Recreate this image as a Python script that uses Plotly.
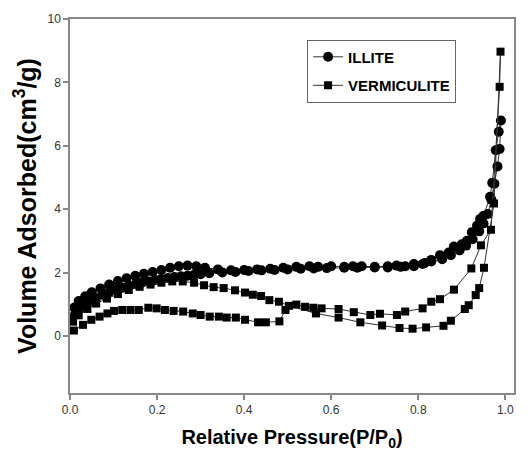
import plotly.graph_objects as go

# ILLITE: adsorption branch then desorption branch
illite_x = [0.005, 0.012, 0.02, 0.03, 0.04, 0.05, 0.06, 0.075, 0.09, 0.105, 0.12, 0.135,
            0.15, 0.165, 0.18, 0.195, 0.21, 0.225, 0.24, 0.255, 0.27, 0.285, 0.30, 0.32,
            0.35, 0.38, 0.41, 0.44, 0.47, 0.50, 0.53, 0.56, 0.59, 0.63, 0.66, 0.70, 0.73,
            0.76, 0.79, 0.81, 0.83, 0.855, 0.875, 0.895, 0.91, 0.925, 0.94, 0.95, 0.96,
            0.968, 0.975, 0.982, 0.987, 0.99,
            0.985, 0.978, 0.97, 0.965, 0.95, 0.942, 0.935, 0.923, 0.912, 0.9, 0.882, 0.87,
            0.85, 0.83, 0.815, 0.79, 0.77, 0.75, 0.73, 0.7, 0.67, 0.65, 0.63, 0.6, 0.57,
            0.55, 0.52, 0.49, 0.46, 0.43, 0.4, 0.37, 0.34, 0.31, 0.29, 0.27, 0.25, 0.23,
            0.21, 0.19, 0.17, 0.15, 0.13, 0.11, 0.09, 0.07, 0.05, 0.035, 0.02, 0.01]
illite_y = [0.55, 0.7, 0.85, 0.95, 1.05, 1.12, 1.2, 1.3, 1.38, 1.45, 1.52, 1.58,
            1.63, 1.68, 1.72, 1.76, 1.8, 1.83, 1.86, 1.88, 1.9, 1.93, 1.95, 1.98,
            2.0, 2.02, 2.05, 2.07, 2.08, 2.1, 2.12, 2.13, 2.14, 2.15, 2.15, 2.16, 2.16,
            2.18, 2.2, 2.27, 2.35, 2.42, 2.55, 2.7, 2.85, 3.05, 3.3, 3.55, 3.85,
            4.3, 4.8, 5.35, 5.9, 6.8,
            6.44, 5.86, 4.83, 4.39, 3.79, 3.69, 3.48, 3.27, 3.0, 2.89, 2.82, 2.63,
            2.55, 2.4, 2.3, 2.27, 2.2, 2.22, 2.2, 2.18, 2.2, 2.2, 2.18, 2.2, 2.18,
            2.2, 2.18, 2.15, 2.12, 2.1, 2.08, 2.07, 2.1, 2.15, 2.2, 2.22, 2.2, 2.15,
            2.08, 2.02, 1.96, 1.9, 1.82, 1.73, 1.62, 1.5, 1.38, 1.25, 1.1, 0.9]

# VERMICULITE: adsorption branch then desorption branch
verm_x = [0.009, 0.03, 0.049, 0.068, 0.086, 0.101, 0.12, 0.139, 0.158, 0.18, 0.199, 0.218,
          0.238, 0.26, 0.282, 0.3, 0.321, 0.342, 0.36, 0.381, 0.402, 0.432, 0.45, 0.481,
          0.495, 0.52, 0.54, 0.559, 0.578, 0.617, 0.652, 0.69, 0.712, 0.751, 0.77, 0.81,
          0.83, 0.85, 0.882, 0.922, 0.944, 0.967, 0.987,
          0.989, 0.974, 0.951, 0.94, 0.932, 0.916, 0.907, 0.875, 0.858, 0.818, 0.787,
          0.757, 0.717, 0.667, 0.617, 0.565, 0.503, 0.48, 0.458, 0.439, 0.42, 0.402,
          0.379, 0.353, 0.33, 0.308, 0.285, 0.259, 0.235, 0.21, 0.185, 0.16, 0.135, 0.11,
          0.085, 0.06, 0.04, 0.02, 0.007]
verm_y = [0.17, 0.35, 0.51, 0.61, 0.71, 0.79, 0.82, 0.82, 0.82, 0.89, 0.87, 0.82,
          0.79, 0.77, 0.71, 0.66, 0.61, 0.61, 0.58, 0.58, 0.51, 0.43, 0.43, 0.46,
          0.82, 0.99, 0.92, 0.89, 0.87, 0.85, 0.75, 0.66, 0.70, 0.66, 0.77, 0.87,
          1.08, 1.16, 1.46, 2.13, 2.86, 3.35, 7.86,
          8.97, 4.18, 2.15, 1.51, 1.29, 0.97, 0.85, 0.48, 0.32, 0.27, 0.23,
          0.25, 0.33, 0.43, 0.58, 0.71, 0.95, 1.08, 1.13, 1.26, 1.30, 1.37,
          1.44, 1.51, 1.54, 1.60, 1.68, 1.72, 1.72, 1.68, 1.62, 1.55, 1.45, 1.32,
          1.18, 1.02, 0.85, 0.65, 0.45]

x_ticks = [0.0, 0.2, 0.4, 0.6, 0.8, 1.0]
y_ticks = [0, 2, 4, 6, 8, 10]

fig = go.Figure()
fig.add_trace(go.Scatter(x=illite_x, y=illite_y, name="<b>ILLITE</b>", mode="lines+markers",
                         legendgroup="a",
                         line=dict(color="#333333", width=1),
                         marker=dict(symbol="circle", size=10, color="black")))
fig.add_trace(go.Scatter(x=verm_x, y=verm_y, name="<b>VERMICULITE</b>", mode="lines+markers",
                         legendgroup="b",
                         line=dict(color="#333333", width=1),
                         marker=dict(symbol="square", size=8, color="black")))

font_family = "Liberation Sans, Arial, sans-serif"
fig.update_layout(
    width=531, height=465,
    margin=dict(l=70, r=17, t=13, b=72),
    plot_bgcolor="white", paper_bgcolor="white",
    font=dict(family=font_family, color="#222222"),
    showlegend=True,
    legend=dict(x=0.534, y=0.945, xanchor="left", yanchor="top",
                bordercolor="#666666", borderwidth=1, bgcolor="white",
                font=dict(size=15, color="black", family=font_family),
                tracegroupgap=6, itemwidth=30),
    xaxis=dict(range=[0, 1.02], tickvals=x_ticks, ticktext=[f"{v:.1f}" for v in x_ticks],
               showline=True, linecolor="#888888", linewidth=1.5, mirror=True,
               ticks="outside", ticklen=5, tickcolor="#888888", tickwidth=1.5,
               showgrid=False, zeroline=False, tickfont=dict(size=12, color="#333333"),
               title=dict(text="<b>Relative Pressure(P/P<sub>0</sub>)</b>",
                          font=dict(size=20, color="black"), standoff=14)),
    yaxis=dict(range=[-1.8, 10], tickvals=y_ticks, ticktext=[str(v) for v in y_ticks],
               showline=True, linecolor="#888888", linewidth=1.5, mirror=True,
               ticks="outside", ticklen=5, tickcolor="#888888", tickwidth=1.5,
               showgrid=False, zeroline=False, tickfont=dict(size=12, color="#333333"),
               title=dict(text="<b>Volume Adsorbed(cm<sup>3</sup>/g)</b>",
                          font=dict(size=25, color="black"), standoff=4)),
)

fig.write_html("out.html")
